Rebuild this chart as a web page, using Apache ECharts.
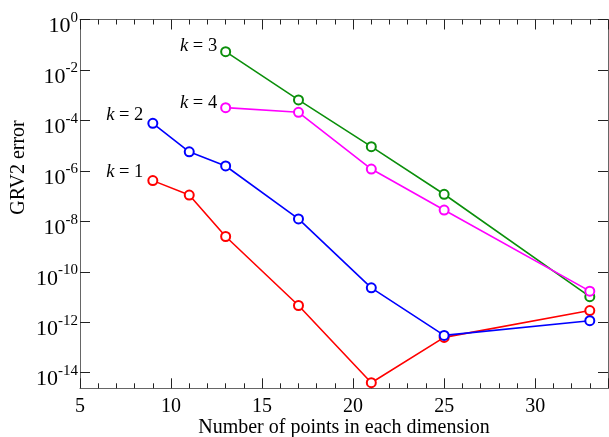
<!DOCTYPE html>
<html><head><meta charset="utf-8">
<script src="https://cdn.jsdelivr.net/npm/echarts@6/dist/echarts.min.js"></script>
<style>html,body{margin:0;padding:0;background:#fff}#c{width:609px;height:437px}</style>
</head><body><div id="c"></div>
<script>
// Data
const xPointsK12 = [9, 11, 13, 17, 21, 25, 33];
const errK1 = [4.1e-7, 1.1e-7, 2.5e-9, 4.6e-12, 4.0e-15, 2.5e-13, 2.9e-12];
const errK2 = [7.7e-5, 5.7e-6, 1.56e-6, 1.24e-8, 2.3e-11, 3.0e-13, 1.15e-12];
const xPointsK34 = [13, 17, 21, 25, 33];
const errK3 = [5.3e-2, 6.5e-4, 9.1e-6, 1.18e-7, 1.03e-11];
const errK4 = [3.2e-4, 2.1e-4, 1.18e-6, 2.8e-8, 1.7e-11];
const kLabels = ['1', '2', '3', '4'];
const xTickLabels = [5, 10, 15, 20, 25, 30];
const yTickValues = [1, 1e-2, 1e-4, 1e-6, 1e-8, 1e-10, 1e-12, 1e-14];

const FONT = '"Liberation Serif", "DejaVu Serif", serif';
const colors = ['#ff0000', '#0000ff', '#0b8f0b', '#ff00ff'];
const labelOffsets = [[-1, -8], [-1, -8.5], [0, -6], [0, -5]];

function pairs(xs, ys) { return xs.map((x, i) => [x, ys[i]]); }

const chart = echarts.init(document.getElementById('c'), null, {renderer: 'canvas'});

function makeSeries(idx, xs, ys) {
  const data = pairs(xs, ys).map((p, i) => {
    if (i !== 0) return p;
    return {
      value: p,
      label: {
        show: true, position: 'left', distance: 3, offset: labelOffsets[idx],
        formatter: '{i|k} = ' + kLabels[idx],
        fontFamily: FONT, fontSize: 18.5, color: '#000',
        rich: { i: { fontFamily: FONT, fontSize: 18.5, fontStyle: 'italic', color: '#000' } }
      }
    };
  });
  return {
    type: 'line', data: data, xAxisIndex: 0, yAxisIndex: 0,
    symbol: 'emptyCircle', symbolSize: 9,
    lineStyle: { color: colors[idx], width: 1.6 },
    itemStyle: { color: colors[idx], borderColor: colors[idx], borderWidth: 2 },
    emphasis: { disabled: true },
    animation: false, z: 2 + idx
  };
}

const yMin = Math.pow(10, -14.62);
const yLabelFmt = function (v) {
  const e = Math.round(Math.log10(v));
  return '{b|10}{s|' + e + '}';
};

const axisLineStyle = { color: '#666', width: 1 };
const tickStyle = { color: '#222', width: 1 };

const option = {
  backgroundColor: '#fff',
  animation: false,
  grid: { left: 80, right: 1, top: 19.5, bottom: 48.7, containLabel: false, outerBoundsMode: 'none' },
  xAxis: [
    {
      type: 'value', min: 5, max: 34, interval: 5, position: 'bottom',
      axisLine: { show: true, lineStyle: axisLineStyle },
      axisTick: { show: true, inside: true, length: 10, lineStyle: tickStyle },
      minorTick: { show: true, splitNumber: 5, length: 5, lineStyle: tickStyle },
      splitLine: { show: false },
      axisLabel: {
        margin: 8, fontFamily: FONT, fontSize: 20, color: '#000',
        formatter: function (v) { return xTickLabels.indexOf(v) >= 0 ? String(v) : ''; }
      },
      name: 'Number of points in each dimension', nameLocation: 'middle', nameGap: 29,
      nameMoveOverlap: false,
      nameTextStyle: { fontFamily: FONT, fontSize: 20, color: '#000' }
    },
    {
      type: 'value', min: 5, max: 34, interval: 5, position: 'top',
      axisLine: { show: true, lineStyle: axisLineStyle },
      axisTick: { show: true, inside: true, length: 10, lineStyle: tickStyle },
      minorTick: { show: true, splitNumber: 5, length: 5, lineStyle: tickStyle },
      splitLine: { show: false }, axisLabel: { show: false }
    }
  ],
  yAxis: [
    {
      type: 'log', logBase: 10, min: yMin, max: 1, position: 'left',
      axisLine: { show: true, lineStyle: axisLineStyle },
      axisTick: { show: true, inside: true, length: 10, lineStyle: tickStyle, customValues: yTickValues },
      minorTick: { show: false }, splitLine: { show: false },
      axisLabel: {
        margin: 2, customValues: yTickValues,
        formatter: yLabelFmt,
        padding: [14, 0, 0, 0],
        rich: {
          b: { fontFamily: FONT, fontSize: 22, color: '#000' },
          s: { fontFamily: FONT, fontSize: 15, color: '#000', padding: [0, 0, 17, 0] }
        }
      }
    },
    {
      type: 'log', logBase: 10, min: yMin, max: 1, position: 'right',
      axisLine: { show: true, lineStyle: axisLineStyle },
      axisTick: { show: true, inside: true, length: 10, lineStyle: tickStyle, customValues: yTickValues },
      minorTick: { show: false }, splitLine: { show: false },
      axisLabel: { show: false }
    }
  ],
  graphic: [
    {
      type: 'text', x: 18.5, y: 167.5, rotation: Math.PI / 2,
      style: { text: 'GRV2 error', fontFamily: FONT, fontSize: 20, fill: '#000', align: 'center', verticalAlign: 'middle' }
    }
  ],
  series: [
    makeSeries(0, xPointsK12, errK1),
    makeSeries(1, xPointsK12, errK2),
    makeSeries(2, xPointsK34, errK3),
    makeSeries(3, xPointsK34, errK4)
  ]
};
chart.setOption(option);
</script>
</body></html>
